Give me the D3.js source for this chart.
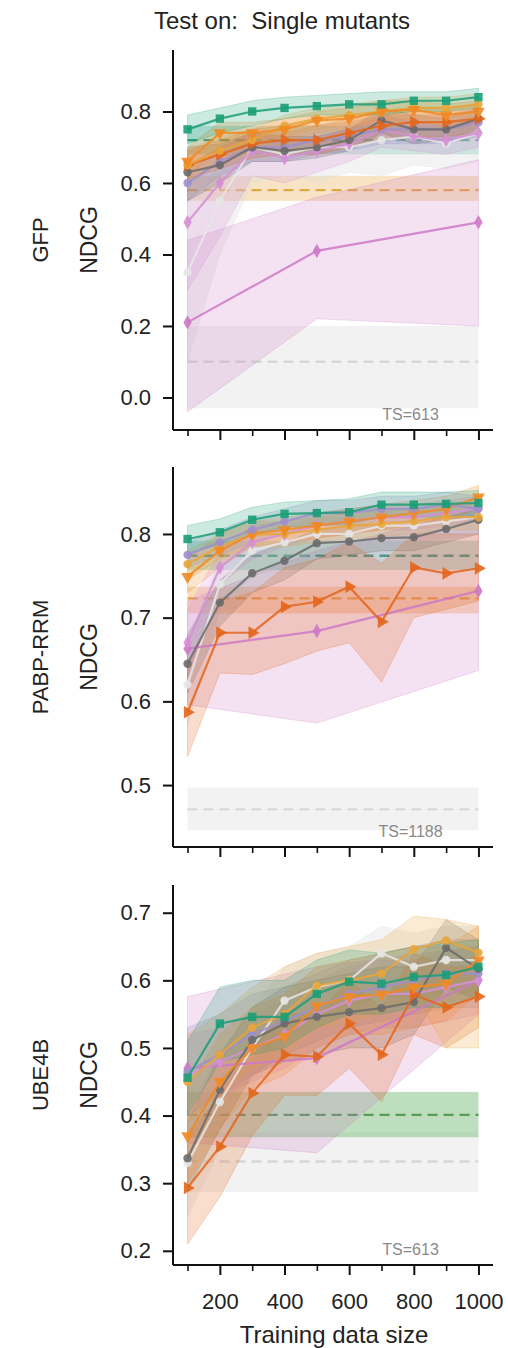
<!DOCTYPE html>
<html><head><meta charset="utf-8">
<script src="https://cdn.jsdelivr.net/npm/d3@7"></script>
<style>
body{margin:0;background:#fff;}
svg{display:block;font-family:"Liberation Sans",Arial,sans-serif;}
</style></head>
<body>
<svg id="chart" width="508" height="1348"></svg>
<script>
// ---------- DATA ----------
const xSizes = [100,200,300,400,500,600,700,800,900,1000];
const xSparse = [100,500,1000];
const xMajorTicks = [200,400,600,800,1000];
const xMinorTicks = [100,300,500,700,900];
const panelNames = ["GFP","PABP-RRM","UBE4B"];
const tsLabels = ["TS=613","TS=1188","TS=613"];
const title = "Test on:  Single mutants";
const yLabel = "NDCG";
const xLabel = "Training data size";
const gfpTicks = [0.0,0.2,0.4,0.6,0.8];
const pabpTicks = [0.5,0.6,0.7,0.8];
const ubeTicks = [0.2,0.3,0.4,0.5,0.6,0.7];

// GFP
const gfpLight = [0.35,0.55,0.70,0.68,0.70,0.70,0.72,0.73,0.71,0.74];
const gfpLightLo = [0.10,0.40,0.60,0.62,0.60,0.63,0.62,0.65,0.64,0.66];
const gfpLightHi = [0.55,0.65,0.75,0.74,0.75,0.76,0.78,0.78,0.77,0.79];
const gfpPinkB = [0.21,0.41,0.49];
const gfpPinkBLo = [-0.04,0.22,0.20];
const gfpPinkBHi = [0.44,0.56,0.665];
const gfpPinkA = [0.49,0.60,0.69,0.67,0.69,0.71,0.75,0.73,0.72,0.74];
const gfpPinkALo = [0.30,0.45,0.62,0.60,0.63,0.66,0.70,0.69,0.68,0.70];
const gfpPinkAHi = [0.62,0.70,0.74,0.72,0.73,0.75,0.79,0.77,0.76,0.78];
const gfpPurple = [0.60,0.66,0.70,0.70,0.72,0.73,0.75,0.75,0.75,0.77];
const gfpPurpleLo = [0.55,0.62,0.66,0.66,0.68,0.69,0.71,0.71,0.71,0.73];
const gfpPurpleHi = [0.65,0.70,0.74,0.74,0.76,0.77,0.79,0.79,0.79,0.81];
const gfpGray = [0.63,0.65,0.70,0.69,0.70,0.72,0.775,0.75,0.75,0.78];
const gfpGrayLo = [0.55,0.60,0.66,0.66,0.67,0.69,0.74,0.71,0.72,0.75];
const gfpGrayHi = [0.70,0.71,0.74,0.73,0.73,0.75,0.81,0.79,0.78,0.81];
const gfpDarkOrange = [0.65,0.68,0.71,0.72,0.72,0.74,0.76,0.77,0.77,0.78];
const gfpDarkOrangeLo = [0.61,0.64,0.67,0.68,0.68,0.70,0.72,0.73,0.73,0.74];
const gfpDarkOrangeHi = [0.69,0.72,0.75,0.76,0.76,0.78,0.80,0.81,0.81,0.82];
const gfpGold = [0.65,0.69,0.72,0.76,0.78,0.79,0.80,0.81,0.81,0.82];
const gfpGoldLo = [0.61,0.65,0.69,0.73,0.75,0.76,0.77,0.78,0.78,0.79];
const gfpGoldHi = [0.69,0.73,0.75,0.79,0.81,0.82,0.83,0.84,0.84,0.85];
const gfpOrange = [0.66,0.74,0.74,0.75,0.775,0.78,0.80,0.805,0.79,0.80];
const gfpOrangeLo = [0.62,0.70,0.71,0.72,0.74,0.75,0.77,0.77,0.76,0.77];
const gfpOrangeHi = [0.70,0.77,0.77,0.78,0.80,0.81,0.83,0.83,0.82,0.83];
const gfpTeal = [0.75,0.78,0.80,0.81,0.815,0.82,0.82,0.83,0.83,0.84];
const gfpTealLo = [0.71,0.74,0.76,0.78,0.79,0.79,0.79,0.80,0.80,0.81];
const gfpTealHi = [0.79,0.81,0.83,0.84,0.845,0.85,0.855,0.855,0.855,0.865];
const gfpBaseTeal = [0.72,0.68,0.76];
const gfpBaseGold = [0.58,0.55,0.62];
const gfpBaseGray = [0.10,-0.03,0.20];

// PABP-RRM
const pabpLight = [0.62,0.74,0.78,0.79,0.80,0.80,0.81,0.81,0.815,0.82];
const pabpLightLo = [0.57,0.71,0.75,0.76,0.78,0.78,0.79,0.79,0.795,0.80];
const pabpLightHi = [0.67,0.77,0.80,0.81,0.82,0.82,0.83,0.83,0.835,0.84];
const pabpPinkB = [0.663,0.684,0.732];
const pabpPinkBLo = [0.596,0.574,0.637];
const pabpPinkBHi = [0.72,0.78,0.83];
const pabpPinkA = [0.67,0.76,0.79,0.80,0.81,0.815,0.82,0.82,0.825,0.83];
const pabpPinkALo = [0.63,0.74,0.77,0.785,0.795,0.80,0.805,0.805,0.81,0.815];
const pabpPinkAHi = [0.71,0.78,0.81,0.815,0.825,0.83,0.835,0.835,0.84,0.845];
const pabpPurple = [0.775,0.79,0.805,0.815,0.825,0.825,0.83,0.83,0.835,0.83];
const pabpPurpleLo = [0.76,0.775,0.79,0.80,0.81,0.81,0.815,0.815,0.82,0.815];
const pabpPurpleHi = [0.79,0.805,0.82,0.83,0.84,0.84,0.845,0.845,0.85,0.845];
const pabpGray = [0.645,0.718,0.753,0.768,0.789,0.791,0.795,0.796,0.806,0.817];
const pabpGrayLo = [0.61,0.69,0.73,0.745,0.77,0.775,0.78,0.78,0.79,0.80];
const pabpGrayHi = [0.68,0.745,0.775,0.79,0.805,0.81,0.81,0.812,0.82,0.83];
const pabpDarkOrange = [0.587,0.682,0.682,0.713,0.719,0.737,0.695,0.760,0.753,0.759];
const pabpDarkOrangeLo = [0.534,0.634,0.632,0.645,0.66,0.67,0.623,0.70,0.71,0.72];
const pabpDarkOrangeHi = [0.64,0.72,0.73,0.76,0.77,0.79,0.765,0.80,0.80,0.80];
const pabpGold = [0.764,0.785,0.799,0.80,0.805,0.81,0.812,0.815,0.82,0.82];
const pabpGoldLo = [0.745,0.77,0.785,0.785,0.79,0.795,0.797,0.80,0.805,0.805];
const pabpGoldHi = [0.78,0.80,0.815,0.815,0.82,0.825,0.827,0.83,0.835,0.835];
const pabpOrange = [0.749,0.78,0.80,0.805,0.81,0.815,0.82,0.825,0.83,0.844];
const pabpOrangeLo = [0.73,0.76,0.785,0.79,0.795,0.80,0.805,0.81,0.815,0.83];
const pabpOrangeHi = [0.77,0.80,0.815,0.82,0.825,0.83,0.835,0.84,0.845,0.858];
const pabpTeal = [0.794,0.802,0.817,0.824,0.825,0.826,0.835,0.835,0.836,0.837];
const pabpTealLo = [0.777,0.787,0.80,0.808,0.81,0.812,0.82,0.82,0.82,0.822];
const pabpTealHi = [0.81,0.818,0.832,0.838,0.84,0.842,0.85,0.85,0.85,0.852];
const pabpBaseTeal = [0.774,0.757,0.792];
const pabpBaseGold = [0.723,0.705,0.737];
const pabpBaseGray = [0.471,0.446,0.497];

// UBE4B
const ubeLight = [0.33,0.42,0.50,0.57,0.59,0.60,0.64,0.62,0.63,0.63];
const ubeLightLo = [0.25,0.35,0.44,0.51,0.54,0.55,0.58,0.57,0.58,0.58];
const ubeLightHi = [0.41,0.49,0.56,0.62,0.64,0.65,0.68,0.67,0.68,0.68];
const ubePinkB = [0.47,0.485,0.60];
const ubePinkBLo = [0.36,0.345,0.55];
const ubePinkBHi = [0.576,0.62,0.65];
const ubePinkA = [0.46,0.48,0.50,0.52,0.55,0.57,0.58,0.58,0.59,0.60];
const ubePinkALo = [0.40,0.43,0.45,0.47,0.50,0.52,0.53,0.53,0.54,0.55];
const ubePinkAHi = [0.52,0.53,0.55,0.57,0.60,0.62,0.63,0.63,0.64,0.65];
const ubePurple = [0.465,0.49,0.52,0.54,0.56,0.58,0.59,0.60,0.61,0.61];
const ubePurpleLo = [0.40,0.43,0.46,0.49,0.51,0.53,0.54,0.55,0.56,0.56];
const ubePurpleHi = [0.53,0.55,0.58,0.59,0.61,0.63,0.64,0.65,0.66,0.66];
const ubeGray = [0.337,0.438,0.512,0.536,0.546,0.553,0.559,0.568,0.648,0.617];
const ubeGrayLo = [0.29,0.38,0.46,0.48,0.49,0.50,0.50,0.52,0.59,0.57];
const ubeGrayHi = [0.39,0.49,0.56,0.59,0.60,0.61,0.62,0.62,0.69,0.66];
const ubeDarkOrange = [0.293,0.354,0.433,0.49,0.487,0.536,0.49,0.579,0.56,0.576];
const ubeDarkOrangeLo = [0.21,0.28,0.37,0.43,0.43,0.47,0.42,0.52,0.50,0.53];
const ubeDarkOrangeHi = [0.37,0.43,0.50,0.55,0.55,0.60,0.56,0.64,0.62,0.62];
const ubeGold = [0.45,0.49,0.53,0.55,0.592,0.60,0.61,0.646,0.659,0.641];
const ubeGoldLo = [0.39,0.43,0.47,0.49,0.53,0.54,0.55,0.58,0.50,0.50];
const ubeGoldHi = [0.52,0.55,0.59,0.62,0.64,0.65,0.66,0.695,0.69,0.68];
const ubeOrange = [0.37,0.45,0.50,0.517,0.562,0.576,0.579,0.59,0.595,0.63];
const ubeOrangeLo = [0.30,0.38,0.44,0.46,0.50,0.52,0.52,0.53,0.54,0.58];
const ubeOrangeHi = [0.44,0.52,0.56,0.58,0.62,0.63,0.64,0.65,0.65,0.68];
const ubeTeal = [0.456,0.536,0.546,0.546,0.58,0.598,0.595,0.605,0.608,0.62];
const ubeTealLo = [0.40,0.48,0.49,0.50,0.53,0.55,0.55,0.56,0.56,0.58];
const ubeTealHi = [0.51,0.59,0.60,0.60,0.63,0.645,0.64,0.65,0.655,0.66];
const ubeBaseGreen = [0.401,0.368,0.435];
const ubeBaseGray = [0.332,0.287,0.375];

// ---------- STYLE ----------
const C = {
  teal:"#1b9e77", orange:"#f08a24", darkorange:"#e3661b", gold:"#e8a53a",
  gray:"#6b6b6b", pinkA:"#d58fd6", pinkB:"#cc79c6", purple:"#9d8fcc",
  light:"#dedede"
};

function seriesSet(p){
  const s = (key,x,v,lo,hi,shape,color)=>({key,x,v,lo,hi,shape,color});
  if(p===0) return [
    s("light",xSizes,gfpLight,gfpLightLo,gfpLightHi,"circle",C.light),
    s("pinkB",xSparse,gfpPinkB,gfpPinkBLo,gfpPinkBHi,"diamond",C.pinkB),
    s("pinkA",xSizes,gfpPinkA,gfpPinkALo,gfpPinkAHi,"diamond",C.pinkA),
    s("purple",xSizes,gfpPurple,gfpPurpleLo,gfpPurpleHi,"circle",C.purple),
    s("gray",xSizes,gfpGray,gfpGrayLo,gfpGrayHi,"circle",C.gray),
    s("darkorange",xSizes,gfpDarkOrange,gfpDarkOrangeLo,gfpDarkOrangeHi,"tri-right",C.darkorange),
    s("gold",xSizes,gfpGold,gfpGoldLo,gfpGoldHi,"circle",C.gold),
    s("orange",xSizes,gfpOrange,gfpOrangeLo,gfpOrangeHi,"tri-down",C.orange),
    s("teal",xSizes,gfpTeal,gfpTealLo,gfpTealHi,"square",C.teal)];
  if(p===1) return [
    s("light",xSizes,pabpLight,pabpLightLo,pabpLightHi,"circle",C.light),
    s("pinkB",xSparse,pabpPinkB,pabpPinkBLo,pabpPinkBHi,"diamond",C.pinkB),
    s("pinkA",xSizes,pabpPinkA,pabpPinkALo,pabpPinkAHi,"diamond",C.pinkA),
    s("gray",xSizes,pabpGray,pabpGrayLo,pabpGrayHi,"circle",C.gray),
    s("darkorange",xSizes,pabpDarkOrange,pabpDarkOrangeLo,pabpDarkOrangeHi,"tri-right",C.darkorange),
    s("gold",xSizes,pabpGold,pabpGoldLo,pabpGoldHi,"circle",C.gold),
    s("orange",xSizes,pabpOrange,pabpOrangeLo,pabpOrangeHi,"tri-down",C.orange),
    s("purple",xSizes,pabpPurple,pabpPurpleLo,pabpPurpleHi,"circle",C.purple),
    s("teal",xSizes,pabpTeal,pabpTealLo,pabpTealHi,"square",C.teal)];
  return [
    s("light",xSizes,ubeLight,ubeLightLo,ubeLightHi,"circle",C.light),
    s("pinkB",xSparse,ubePinkB,ubePinkBLo,ubePinkBHi,"diamond",C.pinkB),
    s("pinkA",xSizes,ubePinkA,ubePinkALo,ubePinkAHi,"diamond",C.pinkA),
    s("purple",xSizes,ubePurple,ubePurpleLo,ubePurpleHi,"circle",C.purple),
    s("gray",xSizes,ubeGray,ubeGrayLo,ubeGrayHi,"circle",C.gray),
    s("darkorange",xSizes,ubeDarkOrange,ubeDarkOrangeLo,ubeDarkOrangeHi,"tri-right",C.darkorange),
    s("gold",xSizes,ubeGold,ubeGoldLo,ubeGoldHi,"circle",C.gold),
    s("orange",xSizes,ubeOrange,ubeOrangeLo,ubeOrangeHi,"tri-down",C.orange),
    s("teal",xSizes,ubeTeal,ubeTealLo,ubeTealHi,"square",C.teal)];
}
function baselines(p){
  const b=(arr,color,line,op)=>({v:arr[0],lo:arr[1],hi:arr[2],color,line,op});
  if(p===0) return [b(gfpBaseGray,"#d4d4d4","#d8d8d8",0.3),b(gfpBaseGold,C.gold,"#e0a848",0.3),b(gfpBaseTeal,C.teal,"#2f9e7e",0.25)];
  if(p===1) return [b(pabpBaseGray,"#d4d4d4","#d8d8d8",0.3),b(pabpBaseGold,C.orange,"#e8a040",0.3),b(pabpBaseTeal,C.teal,"#2f9e7e",0.25)];
  return [b(ubeBaseGray,"#d4d4d4","#d8d8d8",0.3),b(ubeBaseGreen,"#6cb86c","#5a9a5a",0.45)];
}

const layout = [
  {top:50,bottom:430,domain:[-0.091,0.972],ticks:gfpTicks},
  {top:467,bottom:847,domain:[0.426,0.880],ticks:pabpTicks},
  {top:885,bottom:1265,domain:[0.179,0.741],ticks:ubeTicks}
];
const left=173, right=493;
const svg = d3.select("#chart");
const x = d3.scaleLinear().domain([55,1045]).range([left,right]);
const FONT = 22;

svg.append("text").attr("x",282).attr("y",29).attr("text-anchor","middle")
  .attr("font-size",24).attr("fill","#222").style("white-space","pre").text(title);

const symbols = {
  circle: d3.symbol().type(d3.symbolCircle).size(55),
  square: d3.symbol().type(d3.symbolSquare).size(70),
  diamond: d3.symbol().type(d3.symbolDiamond).size(60),
  "tri-down": d3.symbol().type(d3.symbolTriangle).size(70),
  "tri-right": d3.symbol().type(d3.symbolTriangle).size(70)
};
const rot = {"tri-down":180,"tri-right":90};

layout.forEach((L,p)=>{
  const y = d3.scaleLinear().domain(L.domain).range([L.bottom,L.top]);
  const g = svg.append("g");
  baselines(p).forEach(b=>{
    g.append("rect").attr("x",x(100)).attr("width",x(1000)-x(100))
      .attr("y",y(b.hi)).attr("height",y(b.lo)-y(b.hi))
      .attr("fill",b.color).attr("fill-opacity",b.op);
    g.append("line").attr("x1",x(100)).attr("x2",x(1000))
      .attr("y1",y(b.v)).attr("y2",y(b.v))
      .attr("stroke",b.line).attr("stroke-width",2.4).attr("stroke-dasharray","10,6");
  });
  const S = seriesSet(p);
  const area = d3.area().x(d=>x(d.x)).y0(d=>y(d.lo)).y1(d=>y(d.hi));
  const line = d3.line().x(d=>x(d.x)).y(d=>y(d.v));
  S.forEach(s=>{
    const pts = s.x.map((xx,i)=>({x:xx,v:s.v[i],lo:s.lo[i],hi:s.hi[i]}));
    g.append("path").datum(pts).attr("d",area)
      .attr("fill",s.color).attr("fill-opacity",s.key==="light"?0.35:0.22)
      .attr("stroke",s.color).attr("stroke-opacity",0.25).attr("stroke-width",1);
  });
  S.forEach(s=>{
    const pts = s.x.map((xx,i)=>({x:xx,v:s.v[i]}));
    const c = s.key==="light" ? "#e6e6e6" : s.color;
    g.append("path").datum(pts).attr("d",line).attr("fill","none")
      .attr("stroke",c).attr("stroke-width",2.2).attr("stroke-opacity",0.85);
    g.selectAll(null).data(pts).enter().append("path")
      .attr("d",symbols[s.shape])
      .attr("transform",d=>`translate(${x(d.x)},${y(d.v)}) rotate(${rot[s.shape]||0})`)
      .attr("fill",c).attr("fill-opacity",0.9);
  });
  g.append("text").attr("x",x(790)).attr("y",L.bottom-10).attr("text-anchor","middle")
    .attr("font-size",16).attr("fill","#8a8a8a").text(tsLabels[p]);

  const ya = svg.append("g").attr("transform",`translate(${left},0)`)
    .call(d3.axisLeft(y).tickValues(L.ticks).tickFormat(d3.format(".1f")).tickSize(10).tickPadding(12));
  ya.select(".domain").attr("d",`M0,${L.top}V${L.bottom}`).attr("stroke","#111").attr("stroke-width",2);
  ya.selectAll(".tick line").attr("stroke","#111").attr("stroke-width",2);
  ya.selectAll(".tick text").attr("font-size",FONT).attr("fill","#222")
    .attr("font-family","Liberation Sans, Arial, sans-serif");

  const xa = svg.append("g").attr("transform",`translate(0,${L.bottom})`)
    .call(d3.axisBottom(x).tickValues(xMajorTicks).tickSize(10).tickPadding(18)
      .tickFormat(p===2 ? d3.format("d") : ()=>""));
  xa.select(".domain").attr("d",`M${left},0H${right}`).attr("stroke","#111").attr("stroke-width",2);
  xa.selectAll(".tick line").attr("stroke","#111").attr("stroke-width",2);
  xa.selectAll(".tick text").attr("font-size",FONT).attr("fill","#222")
    .attr("font-family","Liberation Sans, Arial, sans-serif");
  const xm = svg.append("g").attr("transform",`translate(0,${L.bottom})`)
    .call(d3.axisBottom(x).tickValues(xMinorTicks).tickSize(6).tickFormat(()=>""));
  xm.select(".domain").remove();
  xm.selectAll(".tick line").attr("stroke","#111").attr("stroke-width",1.6);

  const cy = (L.top+L.bottom)/2;
  svg.append("text").attr("transform",`translate(97,${cy}) rotate(-90)`)
    .attr("text-anchor","middle").attr("font-size",23).attr("fill","#222").text(yLabel);
  svg.append("text").attr("transform",`translate(48,${cy}) rotate(-90)`)
    .attr("text-anchor","middle").attr("font-size",FONT).attr("fill","#222").text(panelNames[p]);
});

svg.append("text").attr("x",334).attr("y",1343).attr("text-anchor","middle")
  .attr("font-size",24).attr("fill","#222").text(xLabel);
</script>
</body></html>
